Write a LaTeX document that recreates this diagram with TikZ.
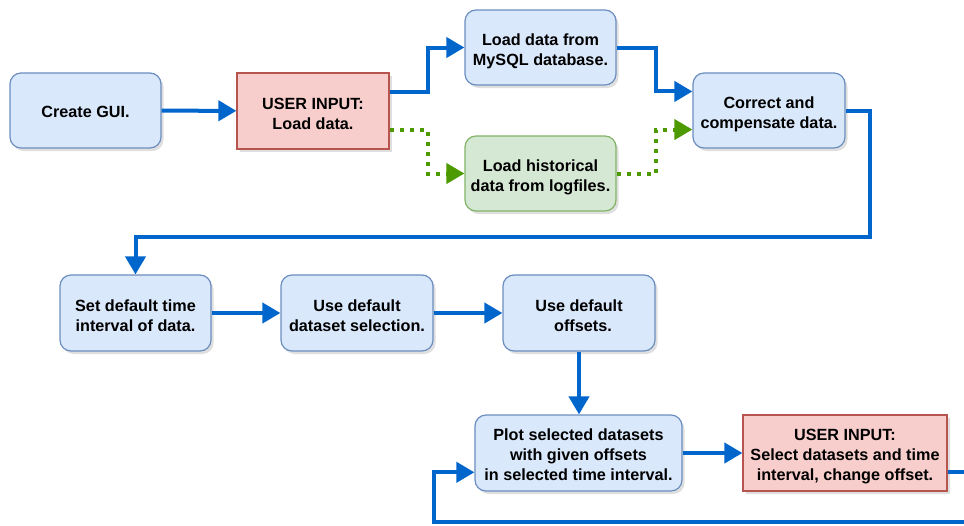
\documentclass[tikz,border=0pt]{standalone}
\usepackage{fontspec}
\setmainfont{Liberation Sans}
\usetikzlibrary{arrows.meta,calc,shadows}
\definecolor{bfill}{HTML}{DAE8FC}
\definecolor{bdraw}{HTML}{6C8EBF}
\definecolor{rfill}{HTML}{F8CECC}
\definecolor{rdraw}{HTML}{B85450}
\definecolor{gfill}{HTML}{D5E8D4}
\definecolor{gdraw}{HTML}{82B366}
\definecolor{lblue}{HTML}{0066CC}
\definecolor{lgreen}{HTML}{4D9900}
\newcommand\lowtxt[2][4pt]{\raisebox{-#1}[\height][\depth]{\begin{tabular}{@{}c@{}}#2\end{tabular}}}
\tikzset{
  box/.style={minimum height=75pt, inner sep=0pt, align=center,
    font=\fontsize{16.2}{20}\selectfont\bfseries, line width=1.2pt,
    drop shadow={shadow xshift=2.5pt, shadow yshift=-3pt, opacity=0.25, fill=black!50}},
  bluebox/.style={box, rounded corners=11pt, fill=bfill, draw=bdraw},
  redbox/.style={box, fill=rfill, draw=rdraw},
  greenbox/.style={box, rounded corners=11pt, fill=gfill, draw=gdraw},
  conn/.style={line width=4pt, draw=lblue, -{Triangle[length=18pt,width=20pt]}},
  gconn/.style={line width=4pt, draw=lgreen, dash pattern=on 4pt off 6pt,
    -{Triangle[length=18pt,width=20pt]}},
}
\begin{document}
\begin{tikzpicture}[x=1pt,y=-1pt]
\useasboundingbox (0,0) rectangle (964,525);
\clip (0,0) rectangle (964,525);
\node[bluebox, minimum width=151pt] (gui) at (85.5,110.5) {\lowtxt[3pt]{Create GUI.}};
\node[redbox, minimum width=152pt, minimum height=76pt] (in1) at (313,111) {\lowtxt{USER INPUT:\\Load data.}};
\node[bluebox, minimum width=151pt] (mysql) at (540.5,47.5) {\lowtxt{Load data from\\MySQL database.}};
\node[greenbox, minimum width=151pt] (hist) at (540.5,173.5) {\lowtxt{Load historical\\data from logfiles.}};
\node[bluebox, minimum width=152pt] (corr) at (769,110.5) {\lowtxt{Correct and\\compensate data.}};
\node[bluebox, minimum width=151pt, minimum height=76pt] (setdef) at (135.5,313) {\lowtxt{Set default time\\interval of data.}};
\node[bluebox, minimum width=152pt, minimum height=76pt] (dsel) at (357,313) {\lowtxt{Use default\\dataset selection.}};
\node[bluebox, minimum width=152pt, minimum height=76pt] (offs) at (579,313) {\lowtxt{Use default\\\hspace*{8pt}offsets.}};
\node[bluebox, minimum width=207pt, minimum height=76pt] (plot) at (578.5,453) {\lowtxt[3pt]{Plot selected datasets\\with given offsets\\in selected time interval.}};
\node[redbox, minimum width=204pt, minimum height=76pt] (in2) at (845,453) {\lowtxt[3pt]{USER INPUT:\\Select datasets and time\\interval, change offset.}};

\coordinate (in1a) at ($(in1.north east)!0.25!(in1.south east)$);
\coordinate (in1b) at ($(in1.north east)!0.75!(in1.south east)$);
\coordinate (corra) at ($(corr.north west)!0.25!(corr.south west)$);
\coordinate (corrb) at ($(corr.north west)!0.75!(corr.south west)$);
\coordinate (loopA) at (870,237);
\coordinate (in2b) at ($(in2.north east)!0.75!(in2.south east)$);
\coordinate (plotb) at ($(plot.north west)!0.75!(plot.south west)$);
\coordinate (loopR) at (1000,522);
\coordinate (loopL) at (434,522);

\draw[conn] (gui) -- (in1);
\draw[conn] (in1a) -- ++(38,0) |- (mysql.west);
\draw[gconn] (in1b) -- ++(38,0) |- (hist.west);
\draw[conn] (mysql.east) -- ++(39,0) |- (corra);
\draw[gconn] (hist.east) -- ++(39,0) |- (corrb);
\draw[conn] (corr.east) -| (loopA) -| (setdef.north);
\draw[conn] (setdef) -- (dsel);
\draw[conn] (dsel) -- (offs);
\draw[conn] (offs.south) -- (offs.south |- plot.north);
\draw[conn] (plot) -- (in2);
\draw[conn] (in2b) -| (loopR) -| (loopL) |- (plotb);
\end{tikzpicture}
\end{document}
